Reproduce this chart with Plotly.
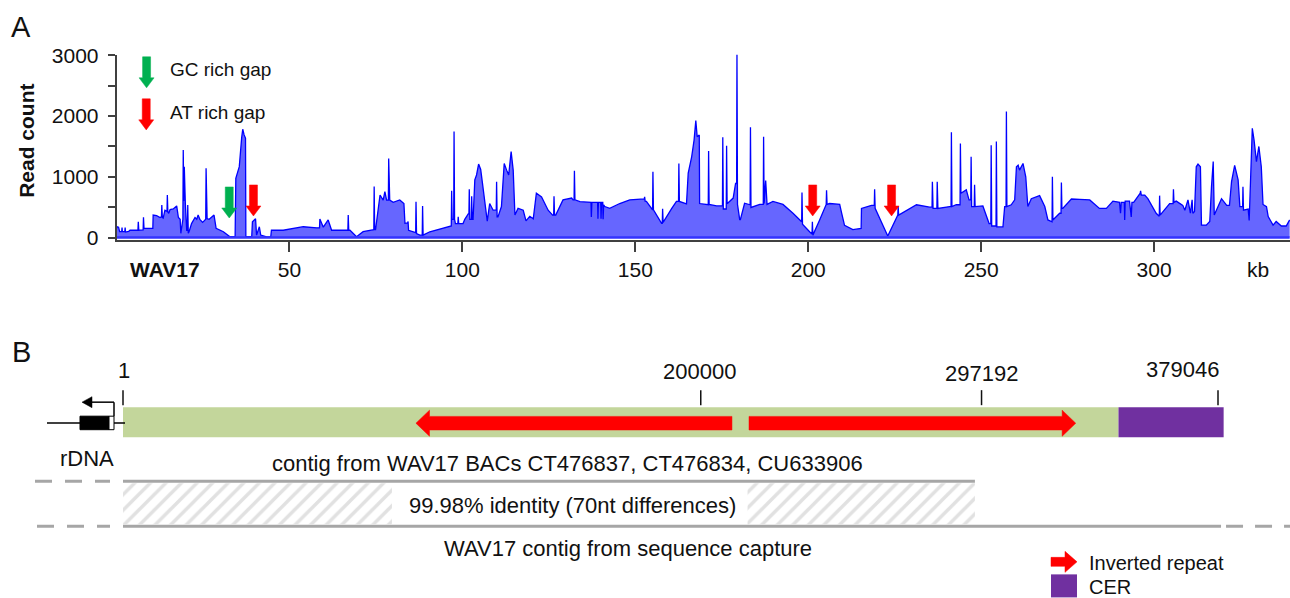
import plotly.graph_objects as go

# ---------------- Panel A data: read-count profile (kb, reads) ----------------
pos_kb = [
 0.0,0.2,0.6,0.9,1.5,1.6,1.7,2.4,2.5,2.6,3.5,3.9,6.2,6.3,6.45,7.7,7.8,7.95,10.5,10.6,11.6,12.6,13.0,13.1,13.25,13.5,14.0,14.6,14.7,14.85,15.1,15.5,16.4,17.4,17.9,18.4,18.6,19.0,19.2,19.3,19.45,19.6,19.75,19.9,20.3,20.5,20.6,20.75,21.0,21.7,22.7,23.2,23.6,24.1,24.9,25.6,25.8,25.9,26.05,26.2,26.8,27.5,28.2,28.8,30.9,32.8,34.3,34.5,35.5,36.2,36.5,36.9,37.1,37.3,37.4,39.1,39.3,39.8,40.2,40.5,41.3,41.7,43.4,44.6,44.8,48.2,54.0,57.9,58.7,58.8,59.8,61.2,62.2,65.6,66.9,67.0,67.15,67.5,69.4,71.3,74.2,74.4,74.5,74.65,74.9,76.2,77.1,77.6,78.1,78.6,78.7,78.85,79.0,80.0,81.9,
 83.1,83.4,84.2,84.3,84.45,85.8,86.5,86.6,86.75,87.7,88.4,88.5,88.65,90.6,96.4,96.8,96.9,97.05,97.3,97.5,97.6,97.75,98.0,98.7,98.8,98.95,100.2,100.7,101.7,101.9,102.0,102.15,102.6,102.7,102.85,103.1,103.6,104.1,104.7,105.3,105.8,106.5,107.2,107.9,108.9,109.8,109.9,110.05,110.3,111.3,112.1,112.8,113.4,114.1,114.7,115.2,116.1,117.6,118.4,119.5,120.5,121.4,122.9,124.8,126.1,126.4,126.5,126.65,127.0,129.1,131.6,132.0,132.3,132.4,132.55,134.0,136.8,137.2,137.3,137.45,139.1,139.2,139.35,140.0,140.1,140.25,140.6,140.7,140.85,141.2,142.6,145.5,148.4,151.3,152.6,152.7,152.85,
 153.2,155.0,155.1,155.25,157.6,157.8,157.9,158.05,160.5,161.9,162.5,162.6,162.75,164.8,165.3,166.3,167.0,167.5,167.9,168.3,168.5,168.6,170.6,171.1,171.2,171.35,173.5,175.2,175.3,175.45,176.3,176.4,176.55,178.3,179.0,179.3,179.4,179.55,180.2,180.4,181.6,183.2,183.3,183.45,186.0,187.0,187.1,187.25,187.7,188.1,189.8,192.7,195.6,198.0,198.1,198.2,198.35,200.4,201.1,201.2,201.35,203.3,205.2,205.3,205.45,206.2,209.1,209.6,210.5,212.9,214.9,
 215.3,215.4,218.3,219.1,219.2,219.35,223.0,225.9,226.0,226.15,231.3,235.1,235.8,235.9,236.1,236.6,237.2,237.3,237.5,240.9,241.3,241.4,241.55,242.8,243.9,244.0,244.15,245.7,246.5,247.0,247.1,247.25,248.0,248.1,248.25,250.5,251.5,252.3,252.8,252.9,253.05,254.3,254.4,254.55,256.3,256.8,257.2,257.3,257.45,258.7,259.7,260.2,260.7,261.1,262.1,262.9,263.5,264.5,266.9,268.4,269.3,270.3,270.5,270.6,270.75,272.7,273.1,273.2,273.35,273.6,
 276.1,278.5,281.4,284.2,286.2,288.1,290.0,290.3,290.5,291.4,291.5,291.65,292.9,293.4,293.6,294.1,295.8,296.0,296.1,296.3,297.3,298.2,300.6,301.4,301.5,301.6,301.75,304.5,305.5,305.6,305.75,306.4,308.3,308.9,309.8,310.5,311.0,311.2,311.7,312.2,312.7,313.4,313.7,315.1,316.1,316.6,317.1,317.4,318.5,319.5,321.0,321.8,322.4,323.3,324.3,324.8,325.6,325.7,325.85,327.2,327.5,328.0,328.4,328.9,329.6,330.3,331.0,331.5,332.5,333.0,334.4,335.3,336.8,338.2,339.2]
reads = [
 150,178,170,96,96,165,96,96,165,90,100,120,120,261,120,125,332,151,151,371,360,330,340,536,330,320,450,430,700,420,400,460,470,520,330,300,70,280,300,1442,600,1167,563,563,120,120,536,69,100,230,330,300,371,300,250,300,300,1140,600,310,300,330,370,151,96,13,20,975,1167,1650,1783,1690,1636,1636,13,13,261,290,310,40,178,40,10,10,120,120,178,160,160,305,170,290,120,120,120,371,120,120,13,96,130,130,840,130,130,700,617,755,617,617,1300,617,617,580,620,
 560,235,240,265,120,95,80,590,65,40,40,520,40,95,190,190,770,300,300,300,1745,300,230,230,340,230,230,300,390,390,795,300,300,680,300,300,950,1030,1210,1120,900,560,270,560,450,450,920,340,340,510,1220,1110,1030,1415,1110,370,480,450,275,350,310,730,670,450,370,370,680,370,370,620,650,620,620,1100,620,590,580,580,340,580,580,310,580,580,310,580,580,300,540,510,480,560,620,635,635,670,600,
 595,455,1085,455,235,235,475,250,475,595,595,1220,595,555,1060,1330,1605,1925,1660,1690,1690,560,540,540,1425,545,520,520,1650,470,470,1510,555,650,890,890,3045,545,290,300,565,540,1815,495,545,545,1660,560,940,545,595,545,400,260,260,740,220,95,60,260,40,290,545,780,545,560,545,420,200,130,150,
 150,480,530,530,795,480,25,370,520,370,540,500,500,920,480,480,480,920,480,510,510,1735,510,540,540,1550,730,785,620,620,1330,510,510,870,510,520,370,230,230,1520,190,190,1580,175,175,510,510,2075,510,540,620,1165,1190,1110,1220,1000,510,640,690,510,290,260,260,1000,290,400,400,905,480,480,
 635,630,620,480,480,600,580,400,580,580,290,600,600,340,580,580,730,730,770,700,700,640,400,350,350,690,370,560,560,795,580,600,530,450,620,400,620,400,430,1165,1210,1165,205,205,265,835,1250,370,510,640,530,530,920,1190,950,510,510,835,450,470,280,1385,1800,1610,1250,1500,1165,545,510,345,205,265,190,190,290]

x_tick_vals = [50, 100, 150, 200, 250, 300]
x_tick_text = ["50", "100", "150", "200", "250", "300"]
y_tick_vals = [0, 500, 1000, 1500, 2000, 2500, 3000]
y_tick_text = ["0", "", "1000", "", "2000", "", "3000"]

# gap markers (kb)
gc_gaps_kb = [32.6]
at_gaps_kb = [39.6, 201.3, 224.1]

# ---------------- Panel B data (bp) ----------------
b_ticks = [1, 200000, 297192, 379046]
b_tick_labels = ["1", "200000", "297192", "379046"]
bac_contig = [1, 344600]
cer_region = [344600, 381000]
ir_left = [210800, 101400]    # from -> tip
ir_right = [216700, 329800]   # from -> tip
hatch_regions = [[0, 93100], [216200, 294900]]
bac_line = [0, 294900]
capture_line = [0, 380100]

W, H = 1290, 598
FONT = "Arial, 'Liberation Sans', sans-serif"
INK = "#111111"
GRAY = "#a6a6a6"

# the page is captured with a slight vertical squeeze; compensate
SQ_A, SQ_B = 0.9654, 11.3
def Y(py):
    return (py - SQ_B) / SQ_A

fig = go.Figure()

# coverage
fig.add_trace(go.Scatter(x=pos_kb, y=reads, mode="lines",
                         line=dict(color="#0000ff", width=1.3),
                         fill="tozeroy", fillcolor="#6666ff",
                         hoverinfo="skip", showlegend=False))
fig.add_trace(go.Scatter(x=[pos_kb[0], pos_kb[-1]], y=[0, 0], mode="lines",
                         line=dict(color="#3333ff", width=2.5),
                         hoverinfo="skip", showlegend=False))

# A-panel arrows (sizes in rendered px converted to data units)
KX = 339.3 / (W - 116.5)
CY = 3050 / 185.0
def down_arrow(xc, top, color):
    hw, hh, L, hl = 4 * KX, 7.5 * KX, 31 * CY, 10 * CY
    xs = [xc - hw, xc + hw, xc + hw, xc + hh, xc, xc - hh, xc - hw, xc - hw]
    ys = [top, top, top - (L - hl), top - (L - hl), top - L, top - (L - hl), top - (L - hl), top]
    fig.add_trace(go.Scatter(x=xs, y=ys, mode="lines", fill="toself", fillcolor=color,
                             line=dict(color=color, width=0.5), hoverinfo="skip",
                             showlegend=False))

for g in gc_gaps_kb:
    down_arrow(g, 833, "#00b050")
for a in at_gaps_kb:
    down_arrow(a, 866, "#ff0000")
down_arrow(8.7, 2976, "#00b050")
down_arrow(8.6, 2284, "#ff0000")

def P(px, py):
    return px / W, 1 - Y(py) / H

annotations = []
def label(px, py, text, size=19, anchor="center", bold=False, ref=None, x=None, y=None, angle=0):
    if ref is None:
        x, y = P(px, py)
        xr, yr = "paper", "paper"
    else:
        xr, yr = ref
    t = "<b>%s</b>" % text if bold else text
    annotations.append(dict(x=x, y=y, xref=xr, yref=yr,
                            text=t, showarrow=False, xanchor=anchor, yanchor="middle",
                            textangle=angle, font=dict(family=FONT, size=size, color=INK)))

label(21, 27, "A", size=29)
label(21, 352, "B", size=29)
label(27, 141, "Read count", size=21, bold=True, angle=-90)
label(168, 70, "GC rich gap", anchor="left")
label(168, 113, "AT rich gap", anchor="left")
label(165, 269, "WAV17", size=21, bold=True)
label(1258, 269, "kb", size=21)

# ---------------- Panel B ----------------
BP_PX = 1095.0 / 379045.0
x2_range = [1 - 123 / BP_PX, 1 + (W - 123) / BP_PX]
y2_range = [SQ_A * H + SQ_B, SQ_B]

def box2(x0, x1, y0, y1, color):
    fig.add_trace(go.Scatter(x=[x0, x1, x1, x0, x0], y=[y0, y0, y1, y1, y0], mode="lines",
                             fill="toself", fillcolor=color, line=dict(width=0, color=color),
                             hoverinfo="skip", showlegend=False, xaxis="x2", yaxis="y2"))

box2(bac_contig[0], bac_contig[1], 407, 437, "#c3d69b")
box2(cer_region[0], cer_region[1], 407, 437, "#7030a0")

shapes = []
def line2(x0, x1, y0, y1, color, width, dash=None):
    shapes.append(dict(type="line", xref="x2", yref="y2", x0=x0, x1=x1, y0=y0, y1=y1,
                       line=dict(color=color, width=width, dash=dash), layer="above"))

for v in b_ticks:
    line2(v, v, 390, 405, INK, 1.5)
label(None, None, b_tick_labels[0], size=22, ref=("x2", "y2"), x=b_ticks[0] + 400, y=370)
label(None, None, b_tick_labels[1], size=22, ref=("x2", "y2"), x=b_ticks[1] - 600, y=371)
label(None, None, b_tick_labels[2], size=22, ref=("x2", "y2"), x=b_ticks[2], y=373)
label(None, None, b_tick_labels[3], size=22, ref=("x2", "y2"), x=b_ticks[3] + 1200, y=369, anchor="right")

def h_arrow(x_from, x_tip, color, yc=423, shaft=6.8, head=13, head_len=4700):
    d = 1 if x_tip > x_from else -1
    hb = x_tip - d * head_len
    xs = [x_from, hb, hb, x_tip, hb, hb, x_from, x_from]
    ys = [yc - shaft, yc - shaft, yc - head, yc, yc + head, yc + shaft, yc + shaft, yc - shaft]
    fig.add_trace(go.Scatter(x=xs, y=ys, mode="lines", fill="toself", fillcolor=color,
                             line=dict(color=color, width=0.5), hoverinfo="skip",
                             showlegend=False, xaxis="x2", yaxis="y2"))

h_arrow(ir_left[0], ir_left[1], "#ff0000")
h_arrow(ir_right[0], ir_right[1], "#ff0000")

# hatched identity blocks
for r0, r1 in hatch_regions:
    fig.add_trace(go.Scatter(x=[r0, r1, r1, r0, r0], y=[483, 483, 524, 524, 483], mode="lines",
                             fill="toself", line=dict(width=0, color="rgba(0,0,0,0)"),
                             fillcolor="white",
                             fillpattern=dict(shape="/", fgcolor="#c4c4c4", bgcolor="white",
                                              size=11, solidity=0.32),
                             hoverinfo="skip", showlegend=False, xaxis="x2", yaxis="y2"))

line2(bac_line[0], bac_line[1], 481, 481, GRAY, 3)
line2(capture_line[0], capture_line[1], 526, 526, GRAY, 3)
# dashed continuations
line2(1 - 88 / BP_PX, 1 - 13 / BP_PX, 481, 481, GRAY, 3, "17px,13px")
line2(1 - 86 / BP_PX, 1 - 13 / BP_PX, 526, 526, GRAY, 3, "17px,13px")
line2(capture_line[1] + 5 / BP_PX, x2_range[1], 526, 526, GRAY, 3, "17px,12px")

label(567, 463, "contig from WAV17 BACs CT476837, CT476834, CU633906", size=22)
label(572, 505, "99.98% identity (70nt differences)", size=22)
label(628, 548, "WAV17 contig from sequence capture", size=22)
label(87, 458, "rDNA", size=22)

# rDNA glyph (paper px)
def pshape(kind, x0, y0, x1, y1, **kw):
    a, b = P(x0, y0)
    c, d = P(x1, y1)
    s = dict(type=kind, xref="paper", yref="paper", x0=a, y0=b, x1=c, y1=d, layer="above")
    s.update(kw)
    shapes.append(s)
pshape("line", 47, 422.7, 125, 422.7, line=dict(color="black", width=1.5))
pshape("rect", 80, 416, 109, 429.5, fillcolor="black", line=dict(color="black", width=1))
pshape("rect", 109, 416, 114, 429.5, fillcolor="white", line=dict(color="black", width=1))
pshape("line", 114, 416, 114, 402, line=dict(color="black", width=1.5))
pshape("line", 114, 402, 90, 402, line=dict(color="black", width=1.5))
def ppath(pts, color):
    s = "M " + " L ".join("%.5f,%.5f" % P(x, y) for x, y in pts) + " Z"
    shapes.append(dict(type="path", xref="paper", yref="paper", path=s,
                       fillcolor=color, line=dict(color=color, width=0.5), layer="above"))
ppath([(82, 402), (92, 396.5), (92, 407.5)], "black")

# legend B
ppath([(1051, 557), (1065, 557), (1065, 551), (1077, 561.5), (1065, 572), (1065, 566), (1051, 566)], "#ff0000")
pshape("rect", 1051, 574, 1077, 597, fillcolor="#7030a0", line=dict(width=0))
label(1087, 563, "Inverted repeat", size=20, anchor="left")
label(1087, 587, "CER", size=20, anchor="left")

fig.update_layout(
    width=W, height=H, margin=dict(l=0, r=0, t=0, b=0),
    paper_bgcolor="white", plot_bgcolor="rgba(0,0,0,0)",
    showlegend=False, annotations=annotations, shapes=shapes,
    font=dict(family=FONT, color=INK),
    xaxis=dict(domain=[116.5 / W, 1], range=[0, 339.3], showgrid=False, zeroline=False,
               showline=True, linecolor="#404040", linewidth=1.5,
               ticks="outside", ticklen=10, tickwidth=1.5, tickcolor="#404040",
               tickvals=x_tick_vals, ticktext=x_tick_text, ticklabelstandoff=0,
               tickfont=dict(size=21, family=FONT, color=INK), anchor="y", fixedrange=True),
    yaxis=dict(domain=[1 - Y(240) / H, 1 - Y(55) / H], range=[-40, 3010], showgrid=False, zeroline=False,
               showline=True, linecolor="#404040", linewidth=1.5,
               ticks="outside", ticklen=7, tickwidth=1.5, tickcolor="#404040",
               tickvals=y_tick_vals, ticktext=y_tick_text, ticklabelstandoff=5,
               tickfont=dict(size=21, family=FONT, color=INK), anchor="x", fixedrange=True),
    xaxis2=dict(domain=[0, 1], range=x2_range, visible=False, anchor="y2", fixedrange=True),
    yaxis2=dict(domain=[0, 1], range=y2_range, visible=False, anchor="x2", fixedrange=True),
)

fig.write_html("out.html")
